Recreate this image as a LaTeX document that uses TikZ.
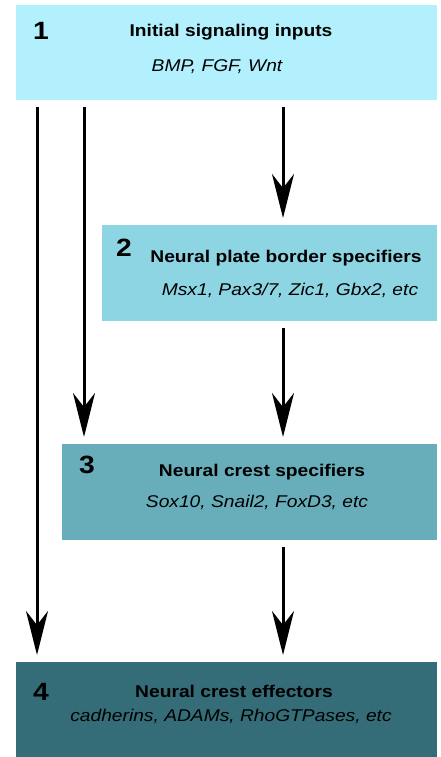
\documentclass[tikz,border=0pt]{standalone}
\usepackage{fontspec}
\setmainfont{Liberation Sans}[FakeStretch=1.13]
\usetikzlibrary{arrows.meta}
\definecolor{stepA}{HTML}{B2F0FD}
\definecolor{stepB}{HTML}{8ED5E3}
\definecolor{stepC}{HTML}{68AEBA}
\definecolor{stepD}{HTML}{346D78}
\begin{document}
\begin{tikzpicture}[x=1pt,y=-1pt,
  stagebox/.style={fill=#1, draw=none, inner sep=0pt, anchor=north west},
  numlabel/.style={font=\fontsize{25}{29}\selectfont\bfseries, inner sep=0pt},
  titlelabel/.style={font=\fontsize{17}{20}\selectfont\bfseries, inner sep=0pt},
  genelabel/.style={font=\fontsize{17}{20}\selectfont\itshape, inner sep=0pt},
  flow/.style={line width=3pt, -{Stealth[length=44pt, width=22pt, inset=14pt]},
    shorten <=7pt, shorten >=7pt}]
\useasboundingbox (0,0) rectangle (441,757);

% stage boxes
\node[stagebox=stepA, minimum width=421pt, minimum height=95pt] (b1) at (16,5) {};
\node[stagebox=stepB, minimum width=335pt, minimum height=96pt] (b2) at (102,225) {};
\node[stagebox=stepC, minimum width=375pt, minimum height=96pt] (b3) at (62,444) {};
\node[stagebox=stepD, minimum width=421pt, minimum height=95pt] (b4) at (16,662) {};

% labels
\node[numlabel] (n1) at (41,31) {1};
\node[titlelabel] (t1) at (231,32) {Initial signaling inputs};
\node[genelabel] (g1) at (217,67) {BMP, FGF, Wnt};

\node[numlabel] (n2) at (124,248) {2};
\node[titlelabel] (t2) at (286,258) {Neural plate border specifiers};
\node[genelabel] (g2) at (290,290) {Msx1, Pax3/7, Zic1, Gbx2, etc};

\node[numlabel] (n3) at (87,465) {3};
\node[titlelabel] (t3) at (262,472) {Neural crest specifiers};
\node[genelabel] (g3) at (257,502) {Sox10, Snail2, FoxD3, etc};

\node[numlabel] (n4) at (41,692) {4};
\node[titlelabel] (t4) at (234,691) {Neural crest effectors};
\node[genelabel] (g4) at (231,716) {cadherins, ADAMs, RhoGTPases, etc};

% arrow columns
\coordinate (colL) at (37,0);
\coordinate (colM) at (84,0);
\coordinate (colR) at (283,0);

% connectors
\draw[flow] (b1.south -| colL) -- (b4.north -| colL);
\draw[flow] (b1.south -| colM) -- (b3.north -| colM);
\draw[flow] (b1.south -| colR) -- (b2.north -| colR);
\draw[flow] (b2.south -| colR) -- (b3.north -| colR);
\draw[flow] (b3.south -| colR) -- (b4.north -| colR);
\end{tikzpicture}
\end{document}
